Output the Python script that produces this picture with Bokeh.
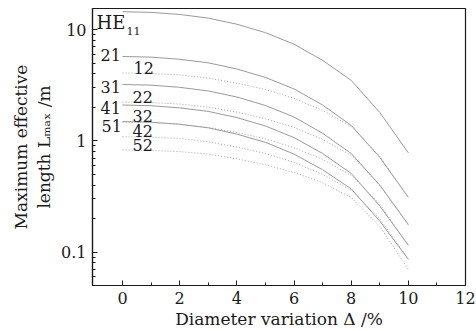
import math
from bokeh.plotting import figure
from bokeh.models import Label, FixedTicker, Title
from bokeh.embed import file_html
from bokeh.resources import INLINE

# ---- data ----
delta = [0, 1, 2, 3, 4, 5, 6, 7, 8, 9, 10]

he11 = [14.5, 14.3, 13.7, 12.7, 11.2, 9.4, 7.4, 5.3, 3.5, 1.8, 0.78]
he21 = [5.74, 5.66, 5.42, 5.03, 4.43, 3.72, 2.93, 2.10, 1.38, 0.71, 0.31]
he31 = [3.21, 3.17, 3.03, 2.81, 2.48, 2.08, 1.64, 1.17, 0.77, 0.40, 0.177]
he41 = [2.10, 2.07, 1.98, 1.84, 1.62, 1.36, 1.07, 0.77, 0.51, 0.26, 0.115]
he51 = [1.49, 1.47, 1.41, 1.31, 1.15, 0.97, 0.76, 0.55, 0.37, 0.19, 0.086]

he12 = [4.08, 4.04, 3.92, 3.67, 3.30, 2.90, 2.41, 1.88, 1.35, 0.73, 0.31]
he22 = [2.23, 2.21, 2.14, 2.01, 1.81, 1.58, 1.32, 1.03, 0.74, 0.40, 0.175]
he32 = [1.47, 1.46, 1.41, 1.32, 1.19, 1.04, 0.87, 0.68, 0.49, 0.27, 0.115]
he42 = [1.09, 1.08, 1.05, 0.98, 0.88, 0.77, 0.64, 0.50, 0.36, 0.20, 0.087]
he52 = [0.83, 0.82, 0.80, 0.76, 0.69, 0.61, 0.52, 0.42, 0.31, 0.17, 0.070]

solid_series = [he11, he21, he31, he41, he51]
dotted_series = [he12, he22, he32, he42, he52]

x_ticks = [0, 2, 4, 6, 8, 10, 12]
x_minor = [1, 3, 5, 7, 9, 11]
y_ticks = [0.1, 1, 10]
y_tick_labels = ["0.1", "1", "10"]
y_minor = [0.06, 0.07, 0.08, 0.09, 0.2, 0.3, 0.4, 0.5, 0.6, 0.7, 0.8, 0.9,
           2, 3, 4, 5, 6, 7, 8, 9]

# ---- geometry ----
W, H = 476, 331
BL, BR, BT, BB = 92, 11, 8, 45
X0, X1 = -1.05, 12
Y0, Y1 = 0.05, 15.5
FW = W - BL - BR
FH = H - BT - BB

def px2x(px):
    return X0 + (px - BL) / FW * (X1 - X0)

def py2y(py):
    lo, hi = math.log10(Y0), math.log10(Y1)
    return 10 ** (hi - (py - BT) / FH * (hi - lo))

FONT = "DejaVu Serif"
INK = "#1a1a1a"

p = figure(width=W, height=H, y_axis_type="log", x_range=(X0, X1), y_range=(Y0, Y1),
           output_backend="svg", toolbar_location=None,
           min_border_left=BL, min_border_right=BR, min_border_top=BT, min_border_bottom=BB)
p.xgrid.visible = False
p.ygrid.visible = False
p.background_fill_color = "white"
p.border_fill_color = "white"
p.outline_line_color = INK
p.outline_line_width = 1.2

p.xaxis.ticker = FixedTicker(ticks=x_ticks, minor_ticks=x_minor)
p.yaxis.ticker = FixedTicker(ticks=y_ticks, minor_ticks=y_minor)
p.yaxis.major_label_overrides = {t: s for t, s in zip(y_ticks, y_tick_labels)}
for ax in (p.xaxis[0], p.yaxis[0]):
    ax.major_tick_in = 5
    ax.major_tick_out = 0
    ax.minor_tick_in = 3
    ax.minor_tick_out = 0
    ax.axis_line_color = INK
    ax.axis_line_width = 1.2
    ax.major_tick_line_color = INK
    ax.minor_tick_line_color = INK
    ax.major_label_text_font = FONT
    ax.major_label_text_font_size = "16px"
    ax.major_label_text_color = INK
    ax.axis_label_text_font = FONT
    ax.axis_label_text_font_size = "17px"
    ax.axis_label_text_font_style = "normal"
    ax.axis_label_text_color = INK
p.xaxis.major_label_standoff = 6
p.yaxis.major_label_standoff = 6

p.xaxis.axis_label = "Diameter variation \u0394 /%"
p.xaxis.axis_label_standoff = 2
p.yaxis.axis_label = "length L\u2098\u2090\u2093 /m"
p.yaxis.axis_label_standoff = 4

p.add_layout(Title(text="Maximum effective", align="center", text_font=FONT,
                   text_font_size="17px", text_font_style="normal", text_color=INK,
                   standoff=2), "left")

for s in solid_series:
    p.line(delta, s, line_color="#9a9a9a", line_width=1)
for s in dotted_series:
    p.line(delta, s, line_color="#a8a8a8", line_width=1, line_dash="1 2")

def lab(text, px, py, size="16px", style="normal"):
    p.add_layout(Label(x=px2x(px), y=py2y(py), text=text, text_font=FONT,
                       text_font_size=size, text_font_style=style, text_color=INK,
                       text_align="left", text_baseline="middle"))

# curve labels (mode numbers)
lab("HE", 96, 22, size="18px")
lab("11", 126, 31, size="11px")
lab("21", 100, 55)
lab("12", 133, 68)
lab("31", 100, 87)
lab("22", 132, 97)
lab("41", 100, 108)
lab("32", 132, 116)
lab("51", 101, 126)
lab("42", 132, 131)
lab("52", 132, 145)

open("out.html", "w").write(file_html(p, INLINE))
